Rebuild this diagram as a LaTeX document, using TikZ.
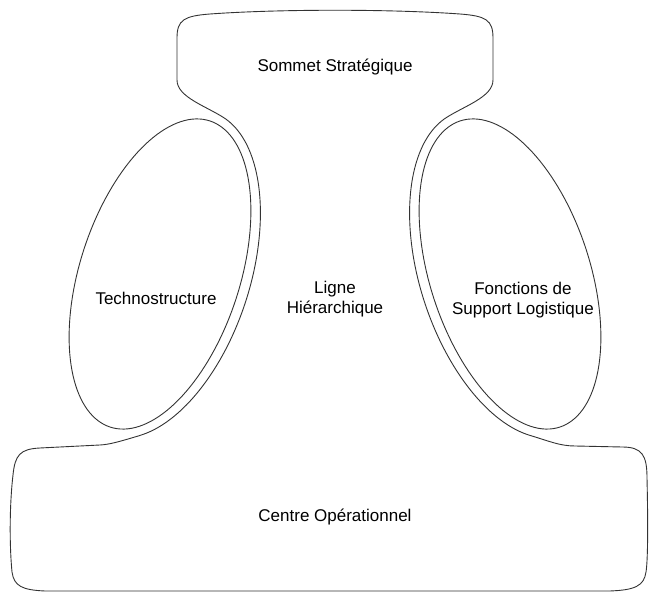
\documentclass[tikz,border=0pt]{standalone}
\usepackage{fontspec}
\setmainfont{Liberation Sans}
\begin{document}
\begin{tikzpicture}[x=1pt,y=-1pt,
  outline/.style={draw=black!80, line width=0.9pt, line join=round},
  lbl/.style={font=\fontsize{17}{20}\selectfont, align=center, text=black, inner sep=0pt}]
\useasboundingbox (0,0) rectangle (649,593);
% inner ellipses
\draw[outline] plot[domain=0:360, samples=145, variable=\t]
  ({160-161*cos(\t)*0.309+80*sin(\t)*0.951},{274+161*cos(\t)*0.951+80*sin(\t)*0.309}) -- cycle;
\draw[outline] plot[domain=0:360, samples=145, variable=\t]
  ({510+161*cos(\t)*0.309-80*sin(\t)*0.951},{274+161*cos(\t)*0.951+80*sin(\t)*0.309}) -- cycle;
% outer shape
\draw[outline] (177,80) -- (177,38)
  .. controls (177,20) and (184,16) .. (210,14)
  .. controls (280,9) and (390,9) .. (460,14)
  .. controls (486,16) and (493,20) .. (493,38)
  -- (493,80)
  .. controls (493,97) and (464.6,105.8) .. (446.07,117.77)
  -- plot[domain=172:20, samples=80, variable=\t]
  ({510+170*cos(\t)*0.309-90*sin(\t)*0.951},{274+170*cos(\t)*0.951+90*sin(\t)*0.309})
  .. controls (549.3,441.2) and (560,446) .. (575,446)
  -- (622,447)
  .. controls (642,447) and (647,455) .. (647,478)
  .. controls (648,520) and (648,560) .. (646,572)
  .. controls (644,586) and (635,590) .. (610,591)
  -- (45,591)
  .. controls (22,590) and (14,586) .. (12,572)
  .. controls (9,540) and (10,500) .. (13,475)
  .. controls (15,455) and (20,449) .. (40,448)
  -- (100,445)
  .. controls (110,444.5) and (120.7,441.2) .. (139.9,435.5)
  -- plot[domain=20:172, samples=80, variable=\t]
  ({160-170*cos(\t)*0.309+90*sin(\t)*0.951},{274+170*cos(\t)*0.951+90*sin(\t)*0.309})
  .. controls (205.4,105.8) and (177,97) .. (177,80) -- cycle;
% labels
\node[lbl] (som) at (335,67) {Sommet Stratégique};
\node[lbl] (lig) at (335,299) {Ligne\\Hiérarchique};
\node[lbl] (tech) at (156,298) {Technostructure};
\node[lbl] (fonc) at (523,300) {Fonctions de\\Support Logistique};
\node[lbl] (cent) at (335,517) {Centre Opérationnel};
\end{tikzpicture}
\end{document}
